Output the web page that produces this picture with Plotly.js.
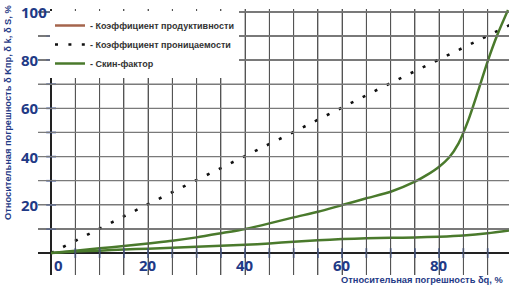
<!DOCTYPE html>
<html>
<head>
<meta charset="utf-8">
<script src="https://cdn.plot.ly/plotly-3.0.1.min.js"></script>
<style>html,body{margin:0;padding:0;background:#fff;}#chart{width:509px;height:286px;}</style>
</head>
<body>
<div id="chart"></div>
<script>
// ---- data ----
const permX = [0, 20, 50, 70, 95];
const permY = [0, 20.3, 50.2, 70.5, 95];

const skinX = [0, 5, 10, 15, 20, 25, 30, 35, 40, 45, 50, 55, 60, 65, 70, 75, 77.5, 80, 82, 84, 86, 88, 90, 92, 94.2];
const skinY = [0, 1.0, 2.0, 2.9, 4.0, 5.1, 6.5, 8.2, 10.0, 12.3, 14.8, 17.1, 19.9, 22.7, 25.4, 29.6, 32.4, 35.8, 39.5, 45.5, 55.0, 67.0, 79.5, 90.5, 100.8];

const prodX = [0, 5, 10, 15, 20, 25, 30, 35, 40, 45, 50, 55, 60, 65, 70, 75, 80, 85, 90, 95];
const prodY = [0, 0.6, 1.0, 1.5, 1.8, 2.2, 2.6, 3.0, 3.4, 4.0, 4.7, 5.3, 5.8, 6.1, 6.3, 6.5, 6.8, 7.3, 8.2, 9.5];

const xTickVals = [0, 20, 40, 60, 80];
const yTickVals = [20, 40, 60, 80, 100];
const xMinorStep = 5, yMinorStep = 10;

const seriesNames = ['- Коэффициент продуктивности', '- Коэффициент проницаемости', '- Скин-фактор'];
const xTitle = 'Относительная погрешность δq, %';
const yTitle = 'Относительная погрешность δ Kпр, δ k, δ S, %';

// ---- layout constants ----
const W = 509, H = 286;
const M = {l: 38, r: 0, t: 9, b: 11, pad: 0};
const PW = W - M.l - M.r, PH = H - M.t - M.b;
const xRange = [-2.7, 94.4];
const yRange = [-9.1, 101.2];
const navy = '#1f3a86';
const green = '#4a7a2c';
const tickBlue = '#2b4aa0';
const vGridColor = '#555', hGridColor = '#7a7a7a';
const tickFont = {family: 'Open Sans', size: 15, color: navy, weight: 'bold'};
const titleFont = {family: 'Liberation Sans', size: 9.3, color: navy, weight: 'bold'};

// grid / tick positions from the axis step settings
const xSteps = [], ySteps = [];
for (let v = xMinorStep; v < xRange[1]; v += xMinorStep) xSteps.push(v);
for (let v = yMinorStep; v <= yRange[1]; v += yMinorStep) ySteps.push(v);

const traces = [
  {x: [null], y: [null], type: 'scatter', mode: 'lines', name: seriesNames[0],
   line: {color: '#a5654c', width: 2.5}, hoverinfo: 'skip'},
  {x: permX, y: permY, type: 'scatter', mode: 'lines', name: seriesNames[1],
   line: {color: '#111', width: 2.6, dash: '3px,10.4px'}},
  {x: skinX, y: skinY, type: 'scatter', mode: 'lines', name: seriesNames[2],
   line: {color: green, width: 2.5, shape: 'spline', smoothing: 0.7}},
  {x: prodX, y: prodY, type: 'scatter', mode: 'lines', name: seriesNames[0],
   showlegend: false,
   line: {color: green, width: 2.5, shape: 'spline', smoothing: 0.7}},
  {x: xSteps, y: xSteps.map(() => 0), type: 'scatter', mode: 'markers', showlegend: false,
   hoverinfo: 'skip', cliponaxis: false,
   marker: {symbol: 'line-ns', size: 7, line: {color: tickBlue, width: 1.6}}},
  {x: ySteps.map(() => 0), y: ySteps, type: 'scatter', mode: 'markers', showlegend: false,
   hoverinfo: 'skip', cliponaxis: false,
   marker: {symbol: 'line-ew', size: 7, line: {color: tickBlue, width: 1.6}}}
];

const shapes = [];
xSteps.forEach(v => shapes.push({type: 'line', layer: 'above', xref: 'x', yref: 'paper',
  x0: v, x1: v, y0: 0, y1: 1, line: {color: vGridColor, width: 1}}));
ySteps.forEach(v => shapes.push({type: 'line', layer: 'above', xref: 'paper', yref: 'y',
  x0: 0, x1: 1, y0: v, y1: v, line: {color: hGridColor, width: 1.3}}));

const annotations = [];
yTickVals.forEach(v => annotations.push({
  xref: 'paper', yref: 'y', x: (19 - M.l) / PW, y: v, xanchor: 'left', yanchor: 'middle',
  text: String(v), showarrow: false, font: tickFont
}));
xTickVals.forEach((v, i) => annotations.push({
  xref: 'x', yref: 'paper', x: v, y: (PH - (265 - M.t)) / PH,
  xanchor: i === 0 ? 'left' : 'center', xshift: i === 0 ? 1 : 0, yanchor: 'middle',
  text: String(v), showarrow: false, font: tickFont
}));
annotations.push({
  xref: 'paper', yref: 'paper', x: (505 - M.l) / PW, y: (PH - (280 - M.t)) / PH,
  xanchor: 'right', yanchor: 'middle', text: xTitle, showarrow: false, font: titleFont
});
annotations.push({
  xref: 'paper', yref: 'paper', x: (8 - M.l) / PW, y: (PH - (113 - M.t)) / PH,
  xanchor: 'center', yanchor: 'middle', textangle: -90, text: yTitle, showarrow: false, font: titleFont
});

const baseAxis = {
  showticklabels: false, ticks: '', showline: false,
  showgrid: true, gridwidth: 1,
  zeroline: true, zerolinecolor: '#222', zerolinewidth: 2
};

const layout = {
  width: W, height: H, margin: M,
  paper_bgcolor: '#fff', plot_bgcolor: '#fff',
  showlegend: true,
  legend: {
    x: (50 - M.l) / PW, y: (PH - (11 - M.t)) / PH, xanchor: 'left', yanchor: 'top',
    bgcolor: '#fff', borderwidth: 0,
    font: {family: 'Liberation Sans', size: 9, color: '#333', weight: 'bold'},
    traceorder: 'normal'
  },
  xaxis: Object.assign({}, baseAxis, {range: xRange, tick0: 0, dtick: xMinorStep, gridcolor: vGridColor}),
  yaxis: Object.assign({}, baseAxis, {range: yRange, tick0: 0, dtick: yMinorStep, gridcolor: hGridColor, gridwidth: 1.3}),
  shapes: shapes,
  annotations: annotations
};

Plotly.newPlot('chart', traces, layout, {staticPlot: true, displayModeBar: false});
</script>
</body>
</html>
